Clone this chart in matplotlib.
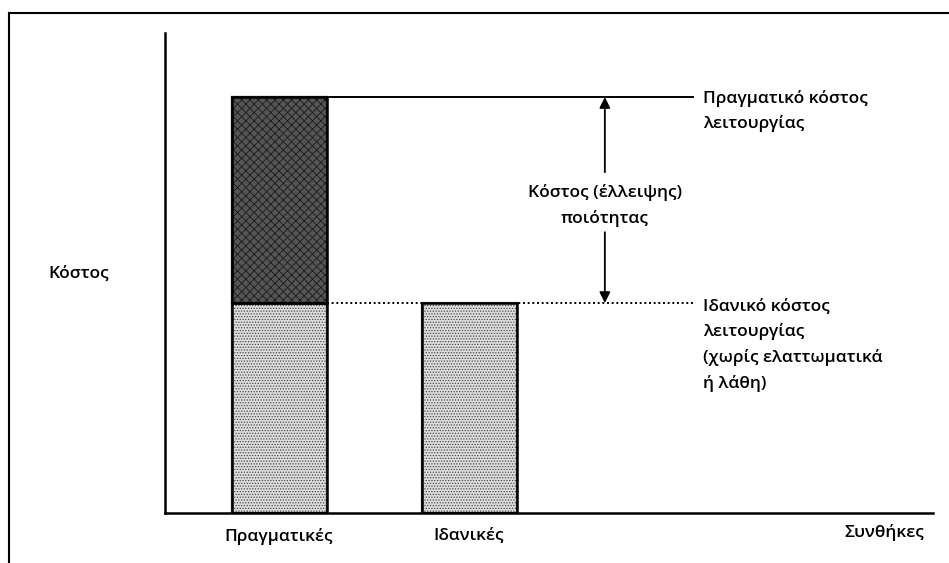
import matplotlib
matplotlib.use('Agg')
import matplotlib.pyplot as plt
from matplotlib.lines import Line2D

plt.rcParams['font.family'] = ['Open Sans', 'DejaVu Sans']
plt.rcParams['hatch.linewidth'] = 0.6

# data
conditions = ['Πραγματικές', 'Ιδανικές']
ideal_cost = [43.75, 43.75]       # ideal operating cost (both bars)
quality_cost = [42.9, 0.0]        # cost of (lack of) quality, only in actual
x_pos = [1.2, 3.2]
y_label = 'Κόστος'
x_label = 'Συνθήκες'
actual_label = 'Πραγματικό κόστος\nλειτουργίας'
ideal_label = 'Ιδανικό κόστος\nλειτουργίας\n(χωρίς ελαττωματικά\nή λάθη)'
gap_label = 'Κόστος (έλλειψης)\nποιότητας'

actual_total = ideal_cost[0] + quality_cost[0]
line_end = 5.56
arrow_x = 4.63
fs = 12.5
fw = 'semibold'
ls = 1.68

fig = plt.figure(figsize=(9.49, 5.63), dpi=100)
ax = fig.add_axes([165/949, 50/563, 768/949, 480/563])
ax.set_xlim(0, 768/95)
ax.set_ylim(0, 100)

ax.bar(x_pos, ideal_cost, width=1.0, color='#dedede', edgecolor='#444444',
       hatch='......', linewidth=1.6, zorder=2)
ax.bar(x_pos[0], quality_cost[0], width=1.0, bottom=ideal_cost[0],
       color='#555555', edgecolor='#1a1a1a', hatch='xxxx', linewidth=1.6, zorder=2)
# black outline over the hatched bars
ax.bar(x_pos, ideal_cost, width=1.0, fill=False, edgecolor='black', linewidth=1.8, zorder=3)
ax.bar(x_pos[0], quality_cost[0], width=1.0, bottom=ideal_cost[0], fill=False,
       edgecolor='black', linewidth=1.8, zorder=3)

# reference lines
ax.plot([x_pos[0] + 0.5, line_end], [actual_total, actual_total], color='black', lw=1.4, zorder=1)
ax.plot([x_pos[0] + 0.5, line_end], [ideal_cost[0], ideal_cost[0]], color='black', lw=1.4,
        linestyle=(0, (1.0, 1.4)), zorder=1)

# double arrow with gap for label
ax.annotate('', xy=(arrow_x, actual_total), xytext=(arrow_x, 71.0),
            arrowprops=dict(arrowstyle='-|>', color='black', lw=1.3, mutation_scale=16,
                            shrinkA=0, shrinkB=0))
ax.annotate('', xy=(arrow_x, ideal_cost[0]), xytext=(arrow_x, 58.5),
            arrowprops=dict(arrowstyle='-|>', color='black', lw=1.3, mutation_scale=16,
                            shrinkA=0, shrinkB=0))
ax.text(arrow_x, 64.0, gap_label, ha='center', va='center', fontsize=fs, fontweight=fw,
        linespacing=ls)

ax.text(line_end + 0.105, actual_total + 1.55, actual_label, ha='left', va='top', fontsize=fs,
        fontweight=fw, linespacing=ls)
ax.text(line_end + 0.105, ideal_cost[0] + 0.95, ideal_label, ha='left', va='top', fontsize=fs,
        fontweight=fw, linespacing=ls)

# axes styling
for s in ['top', 'right']:
    ax.spines[s].set_visible(False)
ax.spines['left'].set_linewidth(1.8)
ax.spines['bottom'].set_linewidth(1.8)
ax.set_yticks([])
ax.set_xticks(x_pos)
ax.set_xticklabels(conditions, fontsize=fs, fontweight=fw)
ax.tick_params(axis='x', length=0, pad=11)
ax.text(0.989, -0.022, x_label, transform=ax.transAxes, ha='right', va='top',
        fontsize=fs, fontweight=fw)
fig.text(48/949, 1 - 274/563, y_label, ha='left', va='center', fontsize=fs, fontweight=fw)

# outer frame of the scanned figure
fig.add_artist(Line2D([9/949, 1.0], [1 - 13/563, 1 - 13/563], color='black', lw=1.5))
fig.add_artist(Line2D([9/949, 9/949], [0, 1 - 13/563], color='black', lw=1.5))

fig.savefig('out.png', dpi=100)
